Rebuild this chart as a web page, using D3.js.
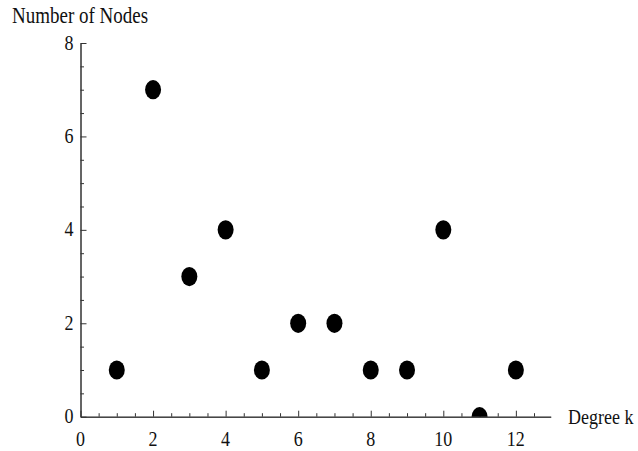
<!DOCTYPE html>
<html>
<head>
<meta charset="utf-8">
<script src="https://cdn.jsdelivr.net/npm/d3@7"></script>
<style>
  html, body { margin: 0; padding: 0; background: #fff; }
  svg { display: block; }
  text { font-family: "Liberation Serif", "Times New Roman", serif; fill: #111; }
</style>
</head>
<body>
<script>
// Degree distribution: number of nodes having each degree k
const degrees = [1, 2, 3, 4, 5, 6, 7, 8, 9, 10, 11, 12];
const nodeCounts = [1, 7, 3, 4, 1, 2, 2, 1, 1, 4, 0, 1];
const xMajorTicks = [0, 2, 4, 6, 8, 10, 12];
const yMajorTicks = [0, 2, 4, 6, 8];
const xLabel = "Degree k";
const yLabel = "Number of Nodes";

const W = 638, H = 451;
const x0 = 80.5, x1 = 550.7, y0 = 416.7, y1 = 43;
const stretch = 1.2;   // glyphs are set slightly taller than wide
const fontSize = 18;

const x = d3.scaleLinear().domain([0, 12.96]).range([x0, x1]);
const y = d3.scaleLinear().domain([0, 8]).range([y0, y1]);

const xMinor = d3.range(0, 12.96, 0.5).filter(v => v % 2 !== 0);
const yMinor = d3.range(0, 8, 0.5).filter(v => v % 2 !== 0);

const svg = d3.select("body").append("svg").attr("width", W).attr("height", H);

svg.append("defs").append("clipPath").attr("id", "plot-clip")
  .append("rect").attr("x", x0).attr("y", 0).attr("width", W - x0).attr("height", y0);

// Axes: major ticks point inward, minor ticks shorter
const axisStyle = g => {
  g.select(".domain").attr("stroke", "#333").attr("stroke-width", 1);
  g.selectAll(".tick line").attr("stroke", "#333").attr("stroke-width", 1);
  g.selectAll(".tick text").remove();
};

svg.append("g").attr("transform", `translate(0,${y0})`)
  .call(d3.axisBottom(x).tickValues(xMajorTicks).tickSize(-6).tickSizeOuter(0))
  .call(axisStyle);
svg.append("g").attr("transform", `translate(0,${y0})`)
  .call(d3.axisBottom(x).tickValues(xMinor).tickSize(-3.5).tickSizeOuter(0))
  .call(axisStyle);
svg.append("g").attr("transform", `translate(${x0},0)`)
  .call(d3.axisLeft(y).tickValues(yMajorTicks).tickSize(-6).tickSizeOuter(0))
  .call(axisStyle);
svg.append("g").attr("transform", `translate(${x0},0)`)
  .call(d3.axisLeft(y).tickValues(yMinor).tickSize(-3.5).tickSizeOuter(0))
  .call(axisStyle);

// Tick labels
function label(px, py, str, anchor, size) {
  svg.append("text")
    .attr("transform", `translate(${px},${py}) scale(1,${stretch})`)
    .attr("text-anchor", anchor)
    .attr("font-size", size || fontSize)
    .text(str);
}
xMajorTicks.forEach(v => label(x(v), 446, String(v), "middle"));
yMajorTicks.forEach(v => label(x0 - 7, y(v) + 6.5, String(v), "end"));

// Axis titles
label(12, 22.5, yLabel, "start", 19);
label(568, 423.5, xLabel, "start");

// Data points
svg.append("g").attr("clip-path", "url(#plot-clip)")
  .selectAll("ellipse")
  .data(degrees.map((d, i) => ({ k: d, n: nodeCounts[i] })))
  .join("ellipse")
  .attr("cx", d => x(d.k))
  .attr("cy", d => y(d.n))
  .attr("rx", 8)
  .attr("ry", 9.6)
  .attr("fill", "#000");
</script>
</body>
</html>
